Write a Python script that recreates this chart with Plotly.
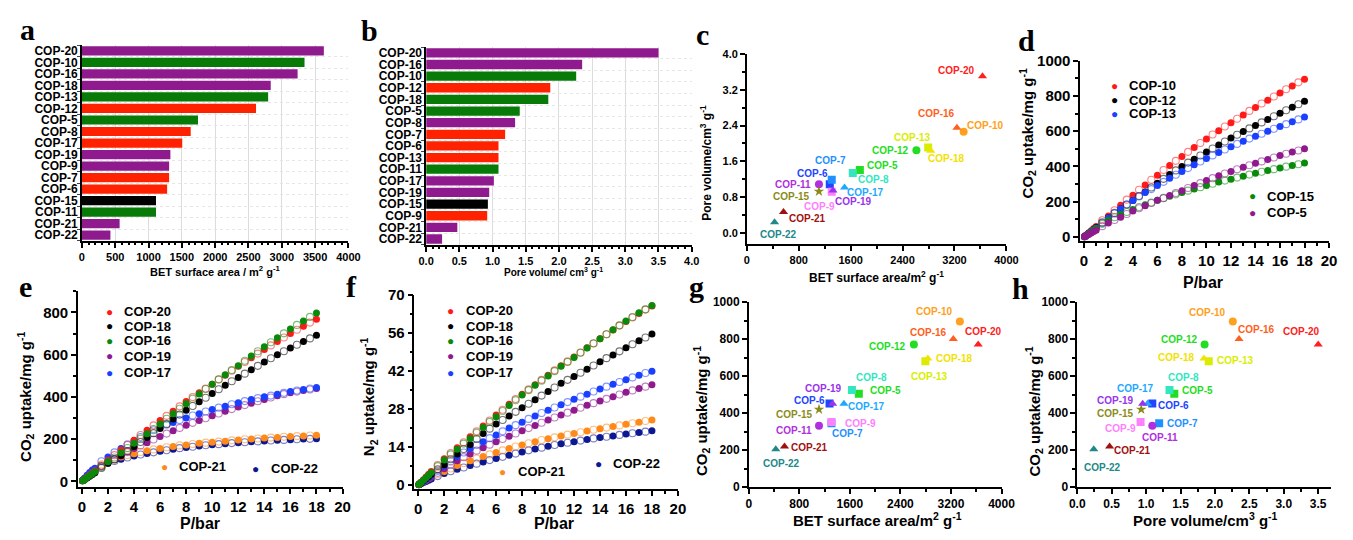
import plotly.graph_objects as go

# page body keeps an 8px margin, so the figure is sized to fit the 1353x540 window exactly
W, H = 1337, 524
OX, OY = 8, 8
FONT = "Arial, Liberation Sans, sans-serif"
SERIF = "Times New Roman, Liberation Serif, serif"

PURPLE, GREEN, RED, BLACK = "#8E1A8E", "#087A08", "#FF2200", "#000000"

# ---------------- Panel a: BET surface area bars ----------------
a_labels = ["COP-20", "COP-10", "COP-16", "COP-18", "COP-13", "COP-12", "COP-5", "COP-8", "COP-17",
            "COP-19", "COP-9", "COP-7", "COP-6", "COP-15", "COP-11", "COP-21", "COP-22"]
a_values = [3631, 3341, 3237, 2834, 2795, 2613, 1742, 1633, 1506, 1328, 1309, 1309, 1279, 1112, 1112, 566, 428]
a_colors = [PURPLE, GREEN, PURPLE, PURPLE, GREEN, RED, GREEN, RED, RED, PURPLE, PURPLE, RED, RED, BLACK,
            GREEN, PURPLE, PURPLE]

# ---------------- Panel b: pore volume bars ----------------
b_labels = ["COP-20", "COP-16", "COP-10", "COP-12", "COP-18", "COP-5", "COP-8", "COP-7", "COP-6", "COP-13",
            "COP-11", "COP-17", "COP-19", "COP-15", "COP-9", "COP-21", "COP-22"]
b_values = [3.5, 2.35, 2.26, 1.87, 1.84, 1.41, 1.34, 1.19, 1.09, 1.09, 1.09, 1.02, 0.95, 0.93, 0.92, 0.47, 0.24]
b_colors = [PURPLE, PURPLE, GREEN, RED, GREEN, GREEN, PURPLE, RED, RED, RED, GREEN, PURPLE, PURPLE, BLACK,
            RED, PURPLE, PURPLE]

# ---------------- Panels c, g, h: property scatter ----------------
cops = ["COP-5", "COP-6", "COP-7", "COP-8", "COP-9", "COP-10", "COP-11", "COP-12", "COP-13", "COP-15",
        "COP-16", "COP-17", "COP-18", "COP-19", "COP-20", "COP-21", "COP-22"]
bet = [1742, 1279, 1309, 1633, 1309, 3341, 1112, 2613, 2795, 1112, 3237, 1506, 2834, 1328, 3631, 566, 428]
pore_vol = [1.41, 1.09, 1.19, 1.34, 0.92, 2.26, 1.09, 1.85, 1.91, 0.93, 2.35, 1.02, 1.84, 0.95, 3.5, 0.47, 0.24]
co2_18bar = [505, 452, 345, 525, 352, 895, 332, 770, 680, 420, 800, 450, 695, 450, 770, 220, 205]
cop_symbols = ["square", "square", "square", "square", "square", "circle", "circle", "circle", "square", "star",
               "triangle-up", "triangle-up", "triangle-up", "triangle-up", "triangle-up", "triangle-up",
               "triangle-up"]
cop_colors = ["#22DD22", "#2244FF", "#1E90FF", "#33E6C0", "#FF80FF", "#FFA020", "#B030E0", "#22DD22",
              "#D8EE00", "#8B8B1A", "#FF6020", "#1EA8FF", "#F2E200", "#9933EE", "#FF2020", "#A01010", "#208888"]
# label offsets (pixels: right, up) for each compound in panels c, g, h
c_off = [(23, 4), (-17, 11), (-1, 19), (21, -6), (-12, -15), (22, 6), (-26, 0), (-26, 0), (-16, 10), (-27, -5),
         (-20, 14), (21, -5), (16, -8), (21, -11), (-26, 6), (24, -6), (4, -12)]
g_off = [(27, 3), (-20, 3), (16, -10), (20, 12), (29, -1), (-25, 10), (-25, -5), (-26, -2), (4, -15), (-25, -5),
         (-25, 7), (23, -3), (27, 0), (-9, 15), (5, 13), (25, -1), (6, -14)]
h_off = [(23, 3), (21, -2), (23, 0), (14, 12), (-20, -6), (-25, 9), (8, -12), (-25, 5), (27, 1), (-26, -4),
         (17, 10), (-12, 15), (-27, 1), (-27, 3), (-17, 13), (23, -4), (9, -18)]

# ---------------- Isotherms (P in bar) ----------------
P_ADS = [0.05, 0.1, 0.2, 0.4, 0.6, 0.8, 1, 2, 3, 4, 5, 6, 7, 8, 9, 10, 11, 12, 13, 14, 15, 16, 17, 18]
P_DES = [1.5, 2.5, 3.5, 4.5, 5.5, 6.5, 7.5, 8.5, 9.5, 10.5, 11.5, 12.5, 13.5, 14.5, 15.5, 16.5, 17.5]

# Panel d: CO2 uptake (mg/g)
d_cop10_ads = [3, 6, 12, 24, 36, 48, 60, 120, 180, 237, 295, 350, 405, 457, 507, 556, 603, 648, 692, 735, 776, 816,
               856, 895]
d_cop10_des = [95, 152, 212, 268, 325, 380, 432, 483, 533, 581, 627, 671, 715, 757, 797, 838, 877]
d_cop12_ads = [2.5, 5, 10, 21, 32, 43, 54, 110, 160, 207, 256, 305, 354, 400, 441, 482, 522, 561, 598, 633, 667, 702,
               736, 770]
d_cop12_des = [83, 137, 185, 233, 281, 330, 378, 422, 462, 502, 542, 580, 616, 650, 685, 719, 753]
d_cop13_ads = [2.5, 5, 10, 20, 31, 42, 52, 108, 160, 207, 252, 292, 333, 372, 410, 446, 480, 512, 543, 572, 600, 627,
               653, 680]
d_cop13_des = [80, 134, 184, 230, 272, 313, 353, 391, 428, 463, 496, 528, 558, 586, 614, 640, 667]
d_cop15_ads = [2, 4.5, 9, 19, 29, 39, 48, 95, 128, 156, 183, 208, 232, 252, 273, 292, 312, 328, 345, 362, 378, 392,
               406, 420]
d_cop15_des = [75, 112, 142, 170, 196, 220, 242, 263, 283, 302, 320, 337, 354, 370, 385, 399, 413]
d_cop5_ads = [2, 4, 7, 15, 23, 31, 38, 80, 113, 148, 178, 208, 236, 263, 292, 320, 347, 372, 396, 418, 440, 462,
              482, 500]
d_cop5_des = [62, 97, 131, 163, 193, 222, 250, 278, 306, 334, 360, 384, 407, 429, 451, 472, 491]

# Panel e: CO2 uptake (mg/g)
e_cop20_ads = [2.5, 5, 10, 20, 30, 40, 50, 100, 148, 195, 242, 288, 332, 378, 420, 460, 503, 545, 585, 625, 662, 700,
               735, 768]
e_cop20_des = [75, 124, 172, 219, 265, 310, 355, 399, 440, 482, 524, 565, 605, 644, 681, 718, 752]
e_cop18_ads = [2, 4, 8, 16, 24, 32, 40, 85, 122, 165, 207, 250, 295, 337, 377, 416, 455, 492, 528, 565, 600, 632,
               662, 692]
e_cop18_des = [63, 103, 143, 186, 228, 272, 316, 357, 396, 436, 474, 510, 547, 583, 616, 647, 677]
e_cop16_ads = [2, 4.5, 9, 18, 27, 36, 45, 92, 135, 180, 225, 272, 320, 368, 414, 460, 505, 548, 594, 638, 680, 722,
               760, 797]
e_cop16_des = [68, 113, 158, 202, 248, 296, 344, 391, 437, 483, 527, 571, 616, 659, 701, 741, 779]
e_cop19_ads = [2, 4.5, 9, 18, 27, 36, 45, 90, 120, 155, 183, 212, 240, 265, 288, 310, 332, 352, 370, 388, 405, 420,
               430, 440]
e_cop19_des = [70, 105, 138, 170, 198, 226, 253, 277, 299, 321, 342, 361, 379, 397, 413, 425, 435]
e_cop17_ads = [4, 7, 14, 28, 42, 54, 62, 115, 155, 192, 225, 255, 278, 300, 320, 340, 356, 372, 387, 400, 412, 425,
               435, 445]
e_cop17_des = [95, 137, 175, 210, 242, 268, 290, 312, 331, 349, 365, 380, 394, 406, 419, 430, 440]
e_cop21_ads = [4, 7, 14, 27, 38, 48, 57, 95, 115, 130, 145, 155, 165, 172, 180, 185, 190, 196, 200, 205, 208, 212,
               215, 218]
e_cop21_des = [80, 106, 124, 139, 151, 161, 170, 177, 183, 188, 194, 199, 203, 207, 211, 214, 217]
e_cop22_ads = [3.5, 6.5, 13, 25, 35, 44, 52, 85, 105, 120, 132, 142, 152, 160, 167, 173, 178, 183, 187, 191, 194, 197,
               200, 202]
e_cop22_des = [72, 96, 113, 127, 137, 147, 157, 164, 171, 176, 181, 185, 189, 193, 196, 199, 201]

# Panel f: N2 uptake (mg/g)
f_cop20_ads = [0.25, 0.5, 1.0, 2.0, 3.0, 4.0, 5.0, 9.7, 13.8, 17.8, 21.8, 25.8, 29.8, 33.5, 37.0, 40.5, 44.0, 47.2,
               50.6, 54.0, 57.2, 60.3, 63.3, 66.0]
f_cop20_des = [7.4, 11.8, 15.8, 19.8, 23.8, 27.8, 31.7, 35.3, 38.8, 42.3, 45.6, 48.9, 52.3, 55.6, 58.8, 61.8, 64.7]
f_cop18_ads = [0.2, 0.4, 0.8, 1.6, 2.4, 3.2, 4.0, 7.5, 11.5, 15.0, 19.0, 22.5, 25.5, 28.5, 31.5, 34.5, 37.5, 40.0,
               42.7, 45.5, 48.0, 50.6, 53.2, 55.7]
f_cop18_des = [5.8, 9.5, 13.3, 17.0, 20.8, 24.0, 27.0, 30.0, 33.0, 36.0, 38.8, 41.4, 44.1, 46.8, 49.3, 51.9, 54.4]
f_cop16_ads = [0.22, 0.45, 0.9, 1.8, 2.7, 3.6, 4.6, 9.2, 13.2, 17.2, 21.2, 25.2, 29.3, 33.2, 36.8, 40.2, 43.8, 47.0,
               50.5, 54.0, 57.3, 60.5, 63.5, 66.2]
f_cop16_des = [7.0, 11.3, 15.3, 19.3, 23.3, 27.3, 31.3, 35.0, 38.5, 42.0, 45.4, 48.8, 52.2, 55.6, 58.9, 62.0, 64.8]
f_cop19_ads = [0.15, 0.3, 0.6, 1.2, 1.8, 2.4, 3.0, 6.0, 9.0, 11.5, 13.8, 16.0, 18.0, 20.0, 22.0, 24.0, 25.8, 27.6,
               29.4, 31.0, 32.6, 34.2, 35.6, 37.0]
f_cop19_des = [4.5, 7.5, 10.3, 12.7, 14.9, 17.0, 19.0, 21.0, 23.0, 24.9, 26.7, 28.5, 30.2, 31.8, 33.4, 34.9, 36.3]
f_cop17_ads = [0.18, 0.35, 0.7, 1.4, 2.1, 2.8, 3.5, 7.0, 10.5, 13.5, 16.0, 18.5, 21.0, 23.2, 25.5, 27.6, 29.6, 31.6,
               33.5, 35.4, 37.2, 38.8, 40.5, 42.0]
f_cop17_des = [5.2, 8.8, 12.0, 14.8, 17.3, 19.8, 22.1, 24.4, 26.6, 28.6, 30.6, 32.6, 34.5, 36.3, 38.0, 39.7, 41.3]
f_cop21_ads = [0.15, 0.3, 0.6, 1.2, 1.8, 2.4, 3.0, 5.0, 7.2, 9.0, 10.5, 12.0, 13.5, 14.8, 16.0, 17.1, 18.1, 19.0,
               19.9, 20.8, 21.6, 22.4, 23.2, 24.0]
f_cop21_des = [4.0, 6.1, 8.1, 9.8, 11.3, 12.8, 14.2, 15.4, 16.6, 17.6, 18.6, 19.5, 20.4, 21.2, 22.0, 22.8, 23.6]
f_cop22_ads = [0.1, 0.22, 0.45, 0.9, 1.35, 1.8, 2.2, 4.3, 5.8, 7.2, 8.5, 9.8, 11.0, 12.2, 13.3, 14.3, 15.2, 16.0,
               16.8, 17.5, 18.1, 18.8, 19.4, 20.0]
f_cop22_des = [3.3, 5.1, 6.5, 7.9, 9.2, 10.4, 11.6, 12.8, 13.8, 14.8, 15.6, 16.4, 17.2, 17.8, 18.5, 19.1, 19.7]

C_RED, C_BLACK, C_BLUE, C_GREEN, C_PURP = "#FF1A1A", "#000000", "#1A40FF", "#0A8A0A", "#8E1A8E"
C_ORANGE, C_NAVY = "#FF8A1A", "#0C1890"

d_series = [("COP-10", C_RED, d_cop10_ads, d_cop10_des), ("COP-12", C_BLACK, d_cop12_ads, d_cop12_des),
            ("COP-13", C_BLUE, d_cop13_ads, d_cop13_des), ("COP-15", C_GREEN, d_cop15_ads, d_cop15_des),
            ("COP-5", C_PURP, d_cop5_ads, d_cop5_des)]
e_series = [("COP-22", C_NAVY, e_cop22_ads, e_cop22_des), ("COP-21", C_ORANGE, e_cop21_ads, e_cop21_des),
            ("COP-19", C_PURP, e_cop19_ads, e_cop19_des), ("COP-17", C_BLUE, e_cop17_ads, e_cop17_des),
            ("COP-18", C_BLACK, e_cop18_ads, e_cop18_des), ("COP-20", C_RED, e_cop20_ads, e_cop20_des),
            ("COP-16", C_GREEN, e_cop16_ads, e_cop16_des)]
f_series = [("COP-22", C_NAVY, f_cop22_ads, f_cop22_des), ("COP-21", C_ORANGE, f_cop21_ads, f_cop21_des),
            ("COP-19", C_PURP, f_cop19_ads, f_cop19_des), ("COP-17", C_BLUE, f_cop17_ads, f_cop17_des),
            ("COP-18", C_BLACK, f_cop18_ads, f_cop18_des), ("COP-20", C_RED, f_cop20_ads, f_cop20_des),
            ("COP-16", C_GREEN, f_cop16_ads, f_cop16_des)]


def lighten(hexc, a=0.55):
    h = hexc.lstrip("#")
    r, g, b = int(h[0:2], 16), int(h[2:4], 16), int(h[4:6], 16)
    return f"rgba({r},{g},{b},{a})"


def px(x):
    return min(1.0, max(0.0, (x - OX) / W))


def py(y):
    return min(1.0, max(0.0, 1 - (y - OY) / H))


def xd(x0, x1):
    return [px(x0), px(x1)]


def yd(y0, y1):
    return [py(y1), py(y0)]


fig = go.Figure()

# bars
fig.add_trace(go.Bar(y=a_labels, x=a_values, orientation="h", marker=dict(color=a_colors, line=dict(width=0)),
                     width=0.8, xaxis="x", yaxis="y", showlegend=False))
fig.add_trace(go.Bar(y=b_labels, x=b_values, orientation="h", marker=dict(color=b_colors, line=dict(width=0)),
                     width=0.8, xaxis="x2", yaxis="y2", showlegend=False))

# scatter c, g, h
for xs, ys, ax in [(bet, pore_vol, "3"), (bet, co2_18bar, "7"), (pore_vol, co2_18bar, "8")]:
    fig.add_trace(go.Scatter(x=xs, y=ys, mode="markers", xaxis="x" + ax, yaxis="y" + ax, showlegend=False,
                             marker=dict(symbol=cop_symbols, color=cop_colors, size=8, line=dict(width=0))))

# isotherms
for series, ax in [(d_series, "4"), (e_series, "5"), (f_series, "6")]:
    for name, col, ads, des in series:
        fig.add_trace(go.Scatter(x=P_DES, y=des, mode="markers", xaxis="x" + ax, yaxis="y" + ax, showlegend=False,
                                 marker=dict(symbol="circle-open", size=7, color=lighten(col),
                                             line=dict(width=1.1))))
        fig.add_trace(go.Scatter(x=P_ADS, y=ads, mode="markers", xaxis="x" + ax, yaxis="y" + ax, name=name,
                                 showlegend=False, marker=dict(symbol="circle", size=7, color=col)))


def axis(dom, rng, size, **kw):
    d = dict(domain=dom, range=rng, showline=True, linecolor="black", linewidth=1.5, ticks="outside", ticklen=5,
             tickwidth=1.5, tickcolor="black", zeroline=False, showgrid=False, mirror=False,
             tickfont=dict(family=FONT, size=size, color="black", weight="bold"))
    d.update(kw)
    return d


def cat_axis(dom, anchor, labels):
    return dict(domain=dom, anchor=anchor, type="category", categoryorder="array", categoryarray=labels,
                tickmode="array", tickvals=labels, ticktext=labels, autorange="reversed", showline=True,
                linecolor="black", linewidth=1.5, ticks="outside", ticklen=3, tickson="boundaries",
                showgrid=True, gridcolor="#e6e6e6", griddash="dot", zeroline=False,
                tickfont=dict(family=FONT, size=12, color="black", weight="bold"))


lay = {}
# a
lay["xaxis"] = axis(xd(75, 346), [0, 4000], 11, anchor="y", dtick=500, showgrid=True, gridcolor="#dcdcdc",
                    minor=dict(dtick=100, ticks="outside", ticklen=2, tickcolor="black", showgrid=False))
lay["yaxis"] = cat_axis(yd(37, 239), "x", a_labels)
# b
lay["xaxis2"] = axis(xd(425, 695), [0, 4], 11, anchor="y2", dtick=0.5, tickformat=".1f", showgrid=True,
                     gridcolor="#dcdcdc",
                     minor=dict(dtick=0.1, ticks="outside", ticklen=2, tickcolor="black", showgrid=False))
lay["yaxis2"] = cat_axis(yd(39, 243), "x2", b_labels)
# c
lay["xaxis3"] = axis(xd(751, 1015), [0, 4000], 11, anchor="y3", dtick=800,
                     minor=dict(dtick=400, ticks="outside", ticklen=3, tickcolor="black"))
lay["yaxis3"] = axis(yd(46, 242), [-0.24, 4.0], 11, anchor="x3", tickvals=[0, 0.8, 1.6, 2.4, 3.2, 4.0],
                     tickformat=".1f",
                     minor=dict(tickvals=[0.4, 1.2, 2.0, 2.8, 3.6], ticks="outside", ticklen=3, tickcolor="black"))
# d
lay["xaxis4"] = axis(xd(1090, 1343), [-0.3, 20], 15, anchor="y4", dtick=2,
                     minor=dict(dtick=1, ticks="outside", ticklen=3, tickcolor="black"))
lay["yaxis4"] = axis(yd(53, 239), [-22, 1000], 15, anchor="x4", dtick=200,
                     minor=dict(dtick=100, ticks="outside", ticklen=3, tickcolor="black"))
# e
lay["xaxis5"] = axis(xd(71, 340), [-0.3, 20], 15, anchor="y5", dtick=2,
                     minor=dict(dtick=1, ticks="outside", ticklen=3, tickcolor="black"))
lay["yaxis5"] = axis(yd(291, 493), [-28, 900], 15, anchor="x5", dtick=200,
                     minor=dict(dtick=100, ticks="outside", ticklen=3, tickcolor="black"))
# f
lay["xaxis6"] = axis(xd(413, 681), [-0.3, 20], 15, anchor="y6", dtick=2,
                     minor=dict(dtick=1, ticks="outside", ticklen=3, tickcolor="black"))
lay["yaxis6"] = axis(yd(295, 495), [-1.5, 70], 15, anchor="x6", dtick=14,
                     minor=dict(dtick=7, ticks="outside", ticklen=3, tickcolor="black"))
# g
lay["xaxis7"] = axis(xd(753, 1010), [0, 4000], 12, anchor="y7", dtick=800,
                     minor=dict(dtick=400, ticks="outside", ticklen=3, tickcolor="black"))
lay["yaxis7"] = axis(yd(302, 493), [0, 1000], 12, anchor="x7", dtick=200,
                     minor=dict(dtick=100, ticks="outside", ticklen=3, tickcolor="black"))
# h
lay["xaxis8"] = axis(xd(1087, 1345), [0, 3.686], 12, anchor="y8", dtick=0.5, tickformat=".1f",
                     minor=dict(dtick=0.25, ticks="outside", ticklen=3, tickcolor="black"))
lay["yaxis8"] = axis(yd(302, 493), [0, 1000], 12, anchor="x8", dtick=200,
                     minor=dict(dtick=100, ticks="outside", ticklen=3, tickcolor="black"))

anns = []


def pann(text, x, y, size, color="black", angle=0, family=FONT, xanchor="center", bold=True):
    anns.append(dict(text=text, x=px(x), y=py(y), xref="paper", yref="paper", showarrow=False,
                     xanchor=xanchor, yanchor="middle", textangle=angle,
                     font=dict(family=family, size=size, color=color, weight="bold" if bold else "normal")))


# panel letters
for letter, x, y in [("a", 20, 21), ("b", 367, 22), ("c", 706, 26), ("d", 1035, 32), ("e", 18, 286),
                     ("f", 349, 286), ("g", 700, 286), ("h", 1029, 288)]:
    pann(letter, x, y, 30, family=SERIF)

# axis titles
pann("BET surface area / m<sup>2</sup> g<sup>-1</sup>", 210, 270, 11)
pann("Pore volume/ cm<sup>3</sup> g<sup>-1</sup>", 555, 271, 10)
pann("BET surface area/m<sup>2</sup> g<sup>-1</sup>", 883, 276, 12)
pann("Pore volume/cm<sup>3</sup> g<sup>-1</sup>", 710, 158, 12, angle=-90)
pann("P/bar", 1215, 282, 16)
pann("CO<sub>2</sub> uptake/mg g<sup>-1</sup>", 1036, 128, 15, angle=-90)
pann("P/bar", 195, 530, 16)
pann("CO<sub>2</sub> uptake/mg g<sup>-1</sup>", 17, 400, 15, angle=-90)
pann("P/bar", 555, 530, 16)
pann("N<sub>2</sub> uptake/mg g<sup>-1</sup>", 366, 400, 15, angle=-90)
pann("BET surface area/m<sup>2</sup> g<sup>-1</sup>", 884, 526, 15)
pann("CO<sub>2</sub> uptake/mg g<sup>-1</sup>", 705, 415, 15, angle=-90)
pann("Pore volume/cm<sup>3</sup> g<sup>-1</sup>", 1217, 526, 15)
pann("CO<sub>2</sub> uptake/mg g<sup>-1</sup>", 1043, 415, 15, angle=-90)

# legends (dot + text)
legend_entries = [
    ("COP-10", C_RED, 1125, 79), ("COP-12", C_BLACK, 1125, 94), ("COP-13", C_BLUE, 1125, 108),
    ("COP-15", C_GREEN, 1265, 193), ("COP-5", C_PURP, 1265, 210),
    ("COP-20", C_RED, 103, 312), ("COP-18", C_BLACK, 103, 327), ("COP-16", C_GREEN, 103, 342),
    ("COP-19", C_PURP, 103, 358), ("COP-17", C_BLUE, 103, 375),
    ("COP-21", C_ORANGE, 159, 472), ("COP-22", C_NAVY, 252, 474),
    ("COP-20", C_RED, 450, 311), ("COP-18", C_BLACK, 450, 327), ("COP-16", C_GREEN, 450, 342),
    ("COP-19", C_PURP, 450, 358), ("COP-17", C_BLUE, 450, 375),
    ("COP-21", C_ORANGE, 503, 477), ("COP-22", C_NAVY, 600, 469),
]
for name, col, x, y in legend_entries:
    pann("●", x, y, 12, color=col, bold=False)
    pann(name, x + 13, y, 13, xanchor="left")

# scatter labels
for xs, ys, ax, offs in [(bet, pore_vol, "3", c_off), (bet, co2_18bar, "7", g_off),
                         (pore_vol, co2_18bar, "8", h_off)]:
    for i, name in enumerate(cops):
        anns.append(dict(text=name, x=xs[i], y=ys[i], xref="x" + ax, yref="y" + ax, showarrow=False,
                         xshift=offs[i][0], yshift=offs[i][1], xanchor="center", yanchor="middle",
                         font=dict(family=FONT, size=10, color=cop_colors[i], weight="bold")))

fig.update_layout(width=W, height=H, margin=dict(l=0, r=0, t=0, b=0), paper_bgcolor="white",
                  plot_bgcolor="white", annotations=anns, bargap=0.2, **lay)

fig.write_html("out.html")
